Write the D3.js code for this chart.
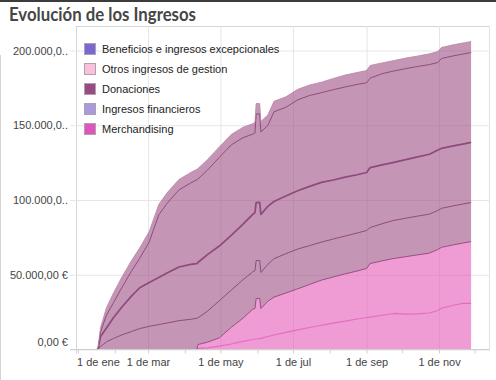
<!DOCTYPE html>
<html><head><meta charset="utf-8">
<script src="https://cdn.jsdelivr.net/npm/d3@7"></script>
<style>body{margin:0;background:#fff;} svg{display:block;}</style>
</head><body><svg id="c" width="496" height="380"></svg>
<script>
const title = "Evolución de los Ingresos";
const dates = ["2014-01-17","2014-01-18","2014-01-20","2014-01-25","2014-01-31","2014-02-07","2014-02-15","2014-02-22","2014-03-02","2014-03-10","2014-03-17","2014-03-27","2014-04-06","2014-04-11","2014-04-12","2014-04-20","2014-04-30","2014-05-10","2014-05-20","2014-05-28","2014-05-30","2014-05-31","2014-06-03","2014-06-04","2014-06-10","2014-06-15","2014-06-25","2014-07-05","2014-07-15","2014-07-25","2014-08-04","2014-08-14","2014-08-24","2014-09-01","2014-09-04","2014-09-14","2014-09-24","2014-10-04","2014-10-14","2014-10-24","2014-10-31","2014-11-03","2014-11-13","2014-11-21","2014-11-28"];
// stacked layers, bottom to top (euros)
const merchandisingTienda = [0,0,0,0,0,0,0,0,0,0,0,0,0,0,700,1100,2300,3700,5400,6700,7000,7200,7300,7400,8700,9700,11500,13100,14700,16200,17600,19000,20400,21400,21700,22900,24100,23600,23800,24400,26100,27600,29600,30800,30800];
const merchandising = [0,0,0,0,0,0,0,0,0,0,0,0,0,0,2600,3800,5500,11100,15600,20100,20400,26900,26900,20000,23700,25300,26300,27500,28800,30200,30900,31600,32100,32800,35800,36400,36800,38500,39500,40100,40800,40700,40400,40400,41400];
const ingresosFinancieros = [0,300,2000,5100,7400,9800,12000,14000,15500,16700,17700,19300,20200,20900,17900,20700,24800,24900,25700,25100,25400,25400,25400,24100,24700,25700,26300,26600,26000,25400,25400,25300,25400,25400,24100,24800,25500,25700,25900,26100,26100,26100,26100,26100,26100];
const donaciones = [0,200,6700,9300,14000,18600,23700,27300,29300,31500,33400,35900,36700,36600,37000,37900,36600,36700,37200,38300,38800,38800,38800,38800,38800,38300,38600,39000,39600,40000,39500,39400,39000,38800,40100,39400,38800,39200,39600,40000,40400,40100,40100,40100,40200];
const otrosIngresos = [0,500,3000,8600,10100,13100,16700,19700,27200,41800,46700,51500,54500,56000,55800,56500,59300,60400,57800,53800,53200,59200,59200,55200,54100,60000,59300,60800,60800,60000,60400,60300,60400,60000,59800,61000,61100,60900,60500,60000,58600,60100,60200,60200,60100];
const beneficios = [0,1000,3000,5000,6500,7000,7000,7000,7000,7000,7000,7000,7000,7000,7000,7000,7000,7000,7000,7000,7000,7000,7000,7000,7000,7000,7000,7000,7000,7000,7500,8000,8000,8200,8500,7200,7000,7000,7000,7200,7300,7400,7400,7400,7400];

const layerKeys = ["merchandisingTienda","merchandising","ingresosFinancieros","donaciones","otrosIngresos","beneficios"];
const layerFills = ["#e25ab6","#e25ab6","#9d4f82","#9d4f82","#9d4f82","#9d4f82"];
const layerLines = ["#e46cc0","#9a4c84","#8e4a7c","#8e4a7c","#8e4a7c","#b785a8"];
const layerLineWidths = [1.2,1,1,1.7,1,0.8];

const legendNames = ["Beneficios e ingresos excepcionales","Otros ingresos de gestion","Donaciones","Ingresos financieros","Merchandising"];
const legendColors = ["#7a67d1","#fbc1db","#984a83","#a99ae0","#df55ba"];

const yTicks = [0,50000,100000,150000,200000];
const yTickLabels = ["0,00 €","50.000,00 €","100.000,0..","150.000,0..","200.000,0.."];
const xTickDates = ["2014-01-01","2014-03-01","2014-05-01","2014-07-01","2014-09-01","2014-11-01"];
const xTickLabels = ["1 de ene","1 de mar","1 de may","1 de jul","1 de sep","1 de nov"];
const monthTickDates = ["2014-01-01","2014-02-01","2014-03-01","2014-04-01","2014-05-01","2014-06-01","2014-07-01","2014-08-01","2014-09-01","2014-10-01","2014-11-01","2014-12-01"];

const parse = d3.timeParse("%Y-%m-%d");
const svg = d3.select("#c");
const L = 76, R = 490, T = 26, B = 349.5;
const x = d3.scaleTime().domain([new Date(2013,11,30,8), new Date(2014,11,13,22)]).range([L, R]);
const y = d3.scaleLinear().domain([0, 200000]).range([B, 50.5]);

// page decorations
svg.append("rect").attr("x",0).attr("y",0).attr("width",496).attr("height",2).attr("fill","#3c3c3c");
svg.append("line").attr("x1",0.5).attr("x2",0.5).attr("y1",55).attr("y2",380).attr("stroke","#d4d4d4");

svg.append("text").attr("x",9).attr("y",21).text(title)
  .attr("font-family","Lato, 'DejaVu Sans', sans-serif").attr("font-weight","bold")
  .attr("font-size",18).attr("fill","#464646")
  .attr("textLength",187).attr("lengthAdjust","spacingAndGlyphs");

const font = "'Liberation Sans', Arial, sans-serif";

// frame + gridlines
const g = svg.append("g");
g.append("line").attr("x1",L).attr("x2",R).attr("y1",T+0.5).attr("y2",T+0.5).attr("stroke","#d6d6d6");
g.append("line").attr("x1",L+0.5).attr("x2",L+0.5).attr("y1",T).attr("y2",B+4).attr("stroke","#d6d6d6");
g.append("line").attr("x1",R-0.5).attr("x2",R-0.5).attr("y1",T).attr("y2",B).attr("stroke","#e2e2e2");

const yAxis = d3.axisLeft(y).tickValues(yTicks).tickFormat((d,i)=>yTickLabels[i])
  .tickSizeInner(-(R-70)).tickSizeOuter(0).tickPadding(8);
const ya = svg.append("g").attr("transform",`translate(${R},0)`).call(yAxis);
ya.select(".domain").remove();
ya.selectAll(".tick line").attr("stroke","#e6e6e6").attr("x1",0).attr("x2",-(R-70));
ya.selectAll(".tick text").attr("x",-(R-68)).attr("text-anchor","end")
  .attr("font-family",font).attr("font-size",11).attr("fill","#444")
  .attr("dy",(d)=> d === 0 ? "-0.35em" : "0.32em");

const xGrid = d3.axisBottom(x).tickValues(xTickDates.slice(1).map(parse)).tickFormat("").tickSize(-(B-T));
const xg = svg.append("g").attr("transform",`translate(0,${B})`).call(xGrid);
xg.select(".domain").remove();
xg.selectAll(".tick line").attr("stroke","#e6e6e6");

// stacked areas
const rows = dates.map((d,i)=>{
  const r = {date: parse(d)};
  r.merchandisingTienda = merchandisingTienda[i];
  r.merchandising = merchandising[i];
  r.ingresosFinancieros = ingresosFinancieros[i];
  r.donaciones = donaciones[i];
  r.otrosIngresos = otrosIngresos[i];
  r.beneficios = beneficios[i];
  return r;
});
const series = d3.stack().keys(layerKeys)(rows);
const area = d3.area().x(d=>x(d.data.date)).y0(d=>y(d[0])).y1(d=>y(d[1]));
const line = d3.line().x(d=>x(d.data.date)).y(d=>y(d[1]));

svg.append("g").selectAll("path").data(series).join("path")
  .attr("d",area).attr("fill",(d,i)=>layerFills[i]).attr("fill-opacity",0.6);
svg.append("g").selectAll("path").data(series).join("path")
  .attr("d",line).attr("fill","none").attr("stroke",(d,i)=>layerLines[i])
  .attr("stroke-width",(d,i)=>layerLineWidths[i]).attr("stroke-linejoin","round");

// x axis
svg.append("line").attr("x1",70).attr("x2",R).attr("y1",B).attr("y2",B).attr("stroke","#cfcfcf");
const xMinor = d3.axisBottom(x).tickValues(monthTickDates.map(parse)).tickFormat("").tickSize(4);
const xm = svg.append("g").attr("transform",`translate(0,${B})`).call(xMinor);
xm.select(".domain").remove();
xm.selectAll(".tick line").attr("stroke","#d0d0d0");

const xAxis = d3.axisBottom(x).tickValues(xTickDates.map(parse)).tickFormat((d,i)=>xTickLabels[i]).tickSize(0).tickPadding(9);
const xa = svg.append("g").attr("transform",`translate(0,${B})`).call(xAxis);
xa.select(".domain").remove();
xa.selectAll(".tick text").attr("font-family",font).attr("font-size",11).attr("fill","#444")
  .each(function(){
    const bb = this.getBBox();
    const tx = +this.parentNode.getAttribute("transform").match(/translate\(([-\d.]+)/)[1];
    if (tx + bb.x < L + 1) d3.select(this).attr("x", (L + 1) - (tx + bb.x));
  });

// legend
const lg = svg.append("g").attr("transform","translate(84,43)");
const items = lg.selectAll("g").data(legendNames).join("g").attr("transform",(d,i)=>`translate(0,${i*20})`);
items.append("rect").attr("x",0.5).attr("y",0.5).attr("width",11).attr("height",11)
  .attr("fill",(d,i)=>legendColors[i]).attr("stroke","#b0a0b0").attr("stroke-width",1);
items.append("text").attr("x",18).attr("y",10).text(d=>d)
  .attr("font-family",font).attr("font-size",11).attr("fill","#222");
</script></body></html>
